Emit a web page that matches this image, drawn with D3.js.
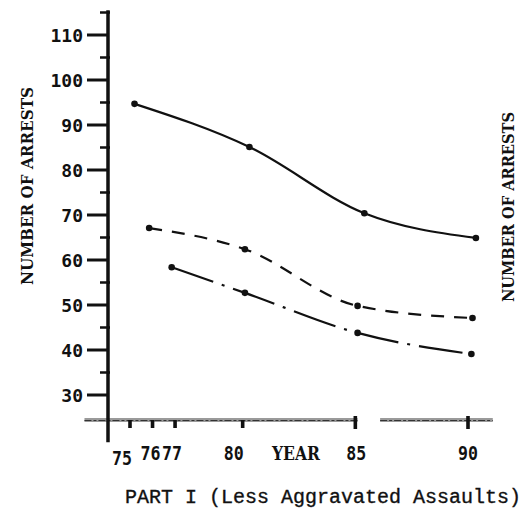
<!DOCTYPE html>
<html>
<head>
<meta charset="utf-8">
<script src="https://cdn.jsdelivr.net/npm/d3@7"></script>
<style>
  html, body { margin: 0; padding: 0; background: #fff; }
  svg { display: block; }
</style>
</head>
<body>
<svg id="chart" width="522" height="518"></svg>
<script>
// ---- data ----
const seriesNames = ["solid", "dashed", "dashdot"];
const solidYears   = [75.2, 80.3, 85.4, 90.35];
const solidValues  = [94.7, 85.1, 70.4, 64.9];
const dashedYears  = [75.85, 80.1, 85.1, 90.2];
const dashedValues = [67.1, 62.4, 49.8, 47.1];
const dashdotYears = [76.85, 80.1, 85.1, 90.15];
const dashdotValues= [58.4, 52.7, 43.8, 39.1];

const yMajorTicks = [30, 40, 50, 60, 70, 80, 90, 100, 110];
const yMinorTicks = [35, 45, 55, 65, 75, 85, 95, 105, 115];
const xTicks = [75, 76, 77, 80, 85, 90];
const xTickLabels = ["75", "76", "77", "80", "85", "90"];
const yTitle = "NUMBER OF ARRESTS";
const xTitle = "YEAR";
const chartTitle = "PART I (Less Aggravated Assaults)";

// ---- scales ----
const x = d3.scaleLinear().domain([75, 90]).range([130, 468]);
const y = d3.scaleLinear().domain([30, 110]).range([395, 35]);

const svg = d3.select("#chart");
const ink = "#111";
const serif = "DejaVu Serif, serif";
const mono = "DejaVu Sans Mono, monospace";

// ---- x axis (broken gray rule) ----
const axisY = 420;
const xLeft = x(74.0) - 23;
const xRight = x(91.1);
const gapStart = x(85.1), gapEnd = x(86.1);
[[xLeft, gapStart], [gapEnd, xRight]].forEach(([a, b]) => {
  svg.append("line").attr("x1", a).attr("x2", b).attr("y1", axisY).attr("y2", axisY)
    .attr("stroke", "#9a9a9a").attr("stroke-width", 4);
  svg.append("line").attr("x1", a).attr("x2", b).attr("y1", axisY + 0.5).attr("y2", axisY + 0.5)
    .attr("stroke", "#333").attr("stroke-width", 1).attr("stroke-dasharray", "7,2,3,2");
});

// x ticks
svg.selectAll(".xt").data(xTicks).join("rect")
  .attr("x", d => x(d) - 1.8).attr("y", d => (d >= 85 ? axisY - 4 : axisY))
  .attr("width", 3.6).attr("height", d => (d >= 85 ? 13 : 8))
  .attr("fill", ink);

// x tick labels
const labelOffsets = {75: [-8, 5], 76: [-2, 0], 77: [-3, 0], 80: [-9, 0], 85: [1, 0], 90: [0, 0]};
svg.selectAll(".xl").data(xTicks).join("text")
  .attr("x", d => x(d) + labelOffsets[d][0])
  .attr("y", d => 460 + labelOffsets[d][1])
  .attr("text-anchor", "middle")
  .attr("font-family", mono)
  .attr("font-size", 19).attr("font-weight", "bold")
  .attr("fill", ink)
  .attr("textLength", 20).attr("lengthAdjust", "spacingAndGlyphs")
  .text((d, i) => xTickLabels[i]);

svg.append("text").attr("x", 296).attr("y", 460).attr("text-anchor", "middle")
  .attr("font-family", serif).attr("font-size", 18).attr("font-weight", "bold")
  .attr("textLength", 48).attr("lengthAdjust", "spacingAndGlyphs")
  .attr("fill", ink).text(xTitle);

// ---- y axis ----
const axisX = 108;
svg.append("line").attr("x1", axisX).attr("x2", axisX)
  .attr("y1", y(115.5)).attr("y2", y(19.5))
  .attr("stroke", ink).attr("stroke-width", 3.5);

svg.selectAll(".ymaj").data(yMajorTicks).join("line")
  .attr("x1", axisX - 21).attr("x2", axisX + 1)
  .attr("y1", d => y(d)).attr("y2", d => y(d))
  .attr("stroke", ink).attr("stroke-width", 3);

svg.selectAll(".ymin").data(yMinorTicks).join("line")
  .attr("x1", axisX - 8).attr("x2", axisX + 2)
  .attr("y1", d => y(d)).attr("y2", d => y(d))
  .attr("stroke", ink).attr("stroke-width", 2.5);

svg.selectAll(".ylab").data(yMajorTicks).join("text")
  .attr("x", axisX - 25).attr("y", d => y(d) + 6.5)
  .attr("text-anchor", "end")
  .attr("font-family", mono)
  .attr("font-size", 18).attr("font-weight", "bold")
  .attr("fill", ink)
  .text(d => d);

// y titles
svg.append("text")
  .attr("transform", "translate(33,186) rotate(-90)")
  .attr("text-anchor", "middle")
  .attr("font-family", serif).attr("font-size", 17).attr("font-weight", "bold")
  .attr("textLength", 198).attr("lengthAdjust", "spacingAndGlyphs")
  .attr("fill", ink).text(yTitle);
svg.append("text")
  .attr("transform", "translate(514,207) rotate(-90)")
  .attr("text-anchor", "middle")
  .attr("font-family", serif).attr("font-size", 16).attr("font-weight", "bold")
  .attr("textLength", 190).attr("lengthAdjust", "spacingAndGlyphs")
  .attr("fill", ink).text(yTitle);

// ---- series ----
const series = [
  {name: seriesNames[0], years: solidYears, values: solidValues, dash: null},
  {name: seriesNames[1], years: dashedYears, values: dashedValues, dash: "13,10"},
  {name: seriesNames[2], years: dashdotYears, values: dashdotValues, dash: "44,9,3,9"}
];
const line = d3.line().x(d => x(d[0])).y(d => y(d[1])).curve(d3.curveMonotoneX);

series.forEach(s => {
  const pts = s.years.map((yr, i) => [yr, s.values[i]]);
  svg.append("path").datum(pts)
    .attr("d", line)
    .attr("fill", "none").attr("stroke", ink).attr("stroke-width", 2.2)
    .attr("stroke-dasharray", s.dash);
  svg.selectAll(null).data(pts).join("circle")
    .attr("cx", d => x(d[0])).attr("cy", d => y(d[1]))
    .attr("r", 3.3).attr("fill", ink);
});

// ---- title ----
svg.append("text").attr("x", 125).attr("y", 503)
  .attr("font-family", "Liberation Mono, monospace").attr("font-size", 20)
  .attr("fill", ink).attr("stroke", ink).attr("stroke-width", 0.35)
  .text(chartTitle);
</script>
</body>
</html>
